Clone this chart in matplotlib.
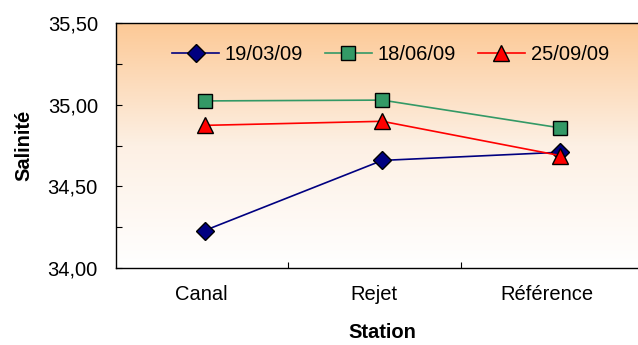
import numpy as np
import matplotlib.pyplot as plt
from matplotlib.ticker import MultipleLocator, FixedLocator
from matplotlib.colors import LinearSegmentedColormap

plt.rcParams['font.family'] = ['Liberation Sans', 'DejaVu Sans']

stations = ['Canal', 'Rejet', 'Référence']
dates = ['19/03/09', '18/06/09', '25/09/09']
sal_mars = [34.23, 34.66, 34.71]
sal_juin = [35.025, 35.03, 34.86]
sal_sept = [34.875, 34.90, 34.69]

fig = plt.figure(figsize=(6.38, 3.45), dpi=100)
ax = fig.add_axes([0.1818, 0.2232, 0.8347, 0.7087])

x = np.arange(len(stations))
ax.set_xlim(-0.5, 2.5)
ax.set_ylim(34.0, 35.5)

# fond dégradé pêche -> blanc
grad = np.linspace(0, 1, 256).reshape(-1, 1)
cmap = LinearSegmentedColormap.from_list('peche', ['#ffffff', '#fdf0e4', '#fcc996'])
ax.imshow(grad, extent=[-0.5, 2.5, 34.0, 35.5], origin='lower', aspect='auto',
          cmap=cmap, zorder=0)

fs = 14.5
ax.plot(x, sal_mars, color='#000080', lw=1.2, marker='D', ms=9.5,
        mfc='#000080', mec='black', mew=1.0, label=dates[0], zorder=3)
ax.plot(x, sal_juin, color='#339966', lw=1.2, marker='s', ms=10.5,
        mfc='#339966', mec='black', mew=1.0, label=dates[1], zorder=3)
ax.plot(x, sal_sept, color='#ff0000', lw=1.2, marker='^', ms=12,
        mfc='#ff0000', mec='black', mew=1.0, label=dates[2], zorder=4)

ax.yaxis.set_major_locator(MultipleLocator(0.5))
ax.yaxis.set_minor_locator(MultipleLocator(0.25))
ax.set_yticklabels([f'{v:.2f}'.replace('.', ',') for v in ax.get_yticks()])
ax.tick_params(axis='y', which='both', direction='in', length=4.5, width=0.8,
               labelsize=fs, pad=13)

ax.xaxis.set_major_locator(FixedLocator([-0.017, 0.954, 1.93]))
ax.set_xticklabels(stations)
ax.xaxis.set_minor_locator(FixedLocator([0.469, 1.444]))
ax.tick_params(axis='x', which='major', length=0, labelsize=fs, pad=12)
ax.tick_params(axis='x', which='minor', direction='in', length=4.5, width=0.8)

for s in ax.spines.values():
    s.set_linewidth(1.0)

ax.set_xlabel('Station', fontsize=fs, fontweight='bold', labelpad=14)
ax.set_ylabel('Salinité', fontsize=fs, fontweight='bold', labelpad=10)

ax.legend(loc='center left', bbox_to_anchor=(0.106, 0.873), ncol=3, frameon=False,
          fontsize=fs, handlelength=2.3, handletextpad=0.3, columnspacing=1.1,
          borderpad=0, borderaxespad=0)

fig.savefig('out.png', dpi=100)
